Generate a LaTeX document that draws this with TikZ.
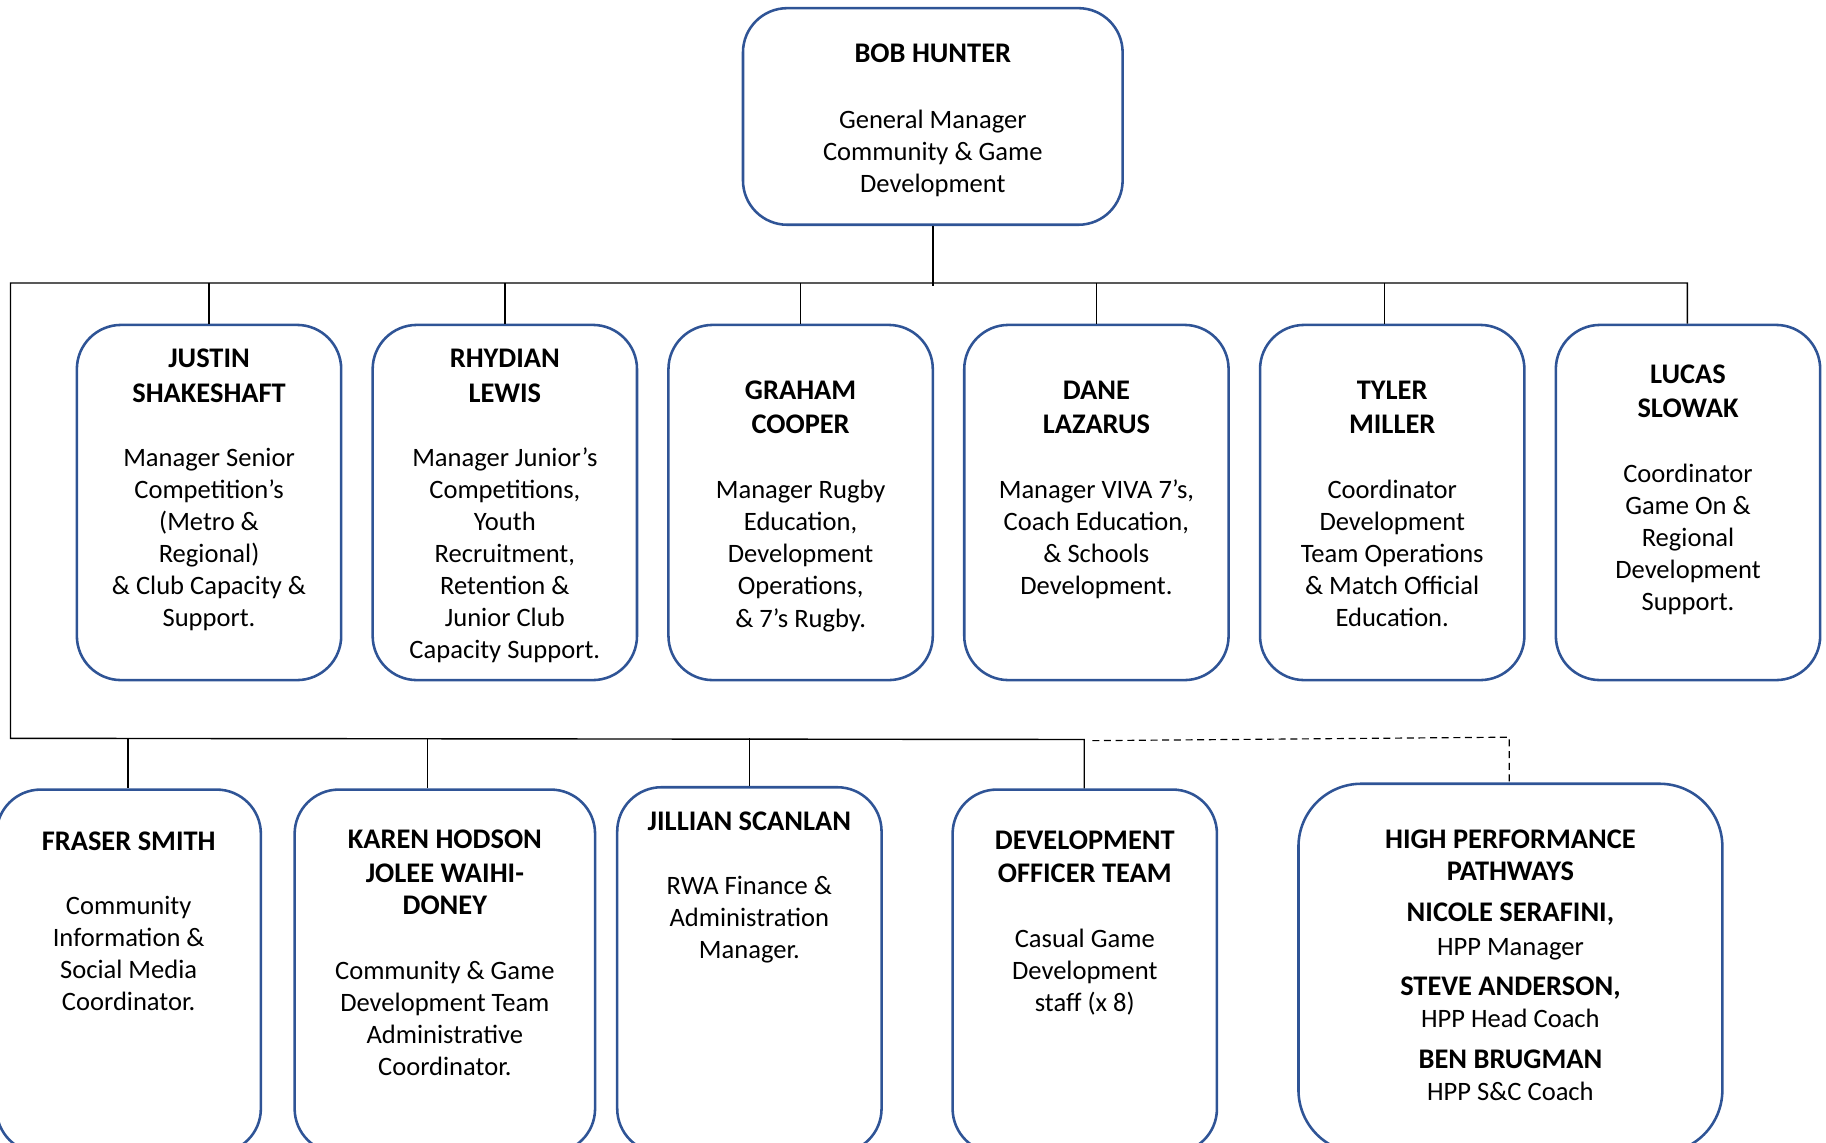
\documentclass[tikz,border=0pt]{standalone}
\usepackage{fontspec}
\setmainfont{Carlito}
\definecolor{boxblue}{RGB}{47,84,150}
\tikzset{
  orgbox/.style={draw=boxblue, line width=1.1pt, rounded corners=19pt, inner sep=0pt},
  orgtxt/.style={align=center, inner sep=0pt, anchor=north, font=\fontsize{11.4}{13.75}\selectfont},
  link/.style={draw=black, line width=0.6pt},
  dlink/.style={draw=black, line width=0.5pt, dash pattern=on 3pt off 2pt},
}
\newcommand\nm[1]{{\fontsize{12.2}{14.75}\selectfont\bfseries #1}}
\begin{document}
\begin{tikzpicture}[x=0.5pt,y=-0.5pt]
\useasboundingbox (0,0) rectangle (1568,980.7);
% ---- boxes
\node[orgbox, minimum width=163pt, minimum height=93pt] (bob) at (801,100) {};
\node[orgbox, minimum width=113.5pt, minimum height=152.5pt] (justin) at (179.5,431.5) {};
\node[orgbox, minimum width=113.5pt, minimum height=152.5pt] (rhydian) at (433.5,431.5) {};
\node[orgbox, minimum width=113.5pt, minimum height=152.5pt] (graham) at (687.5,431.5) {};
\node[orgbox, minimum width=113.5pt, minimum height=152.5pt] (dane) at (941.5,431.5) {};
\node[orgbox, minimum width=113.5pt, minimum height=152.5pt] (tyler) at (1195.5,431.5) {};
\node[orgbox, minimum width=113.5pt, minimum height=152.5pt] (lucas) at (1449.5,431.5) {};
\node[orgbox, minimum width=113.5pt, minimum height=156pt] (fraser) at (110.5,834) {};
\node[orgbox, minimum width=129pt, minimum height=156pt] (karen) at (382,834) {};
\node[orgbox, minimum width=113.5pt, minimum height=157pt] (jillian) at (643.5,833) {};
\node[orgbox, minimum width=113.5pt, minimum height=156pt] (devteam) at (931.5,834) {};
\node[orgbox, rounded corners=27pt, minimum width=182pt, minimum height=158.5pt] (hpp) at (1297,831.5) {};
% ---- texts
\node[orgtxt] (bobt) at (801,37) {\nm{BOB HUNTER}\\[14.75pt]General Manager\\Community \& Game\\Development};
\node[orgtxt] (justint) at (179.5,299) {\nm{JUSTIN}\\[1.25pt]\nm{SHAKESHAFT}\\[13.75pt]Manager Senior\\Competition’s\\(Metro \&\\Regional)\\\& Club Capacity \&\\Support.};
\node[orgtxt] (rhydiant) at (433.5,299) {\nm{RHYDIAN}\\[1.25pt]\nm{LEWIS}\\[13.75pt]Manager Junior’s\\Competitions,\\Youth\\Recruitment,\\Retention \&\\Junior Club\\Capacity Support.};
\node[orgtxt] (grahamt) at (687.5,327) {\nm{GRAHAM}\\[0.75pt]\nm{COOPER}\\[14.25pt]Manager Rugby\\Education,\\Development\\Operations,\\\& 7’s Rugby.};
\node[orgtxt] (danet) at (941.5,327) {\nm{DANE}\\[0.75pt]\nm{LAZARUS}\\[14.25pt]Manager VIVA 7’s,\\Coach Education,\\\& Schools\\Development.};
\node[orgtxt] (tylert) at (1195.5,327) {\nm{TYLER}\\[0.75pt]\nm{MILLER}\\[14.25pt]Coordinator\\Development\\Team Operations\\\& Match Official\\Education.};
\node[orgtxt] (lucast) at (1449.5,313) {\nm{LUCAS}\\[0.75pt]\nm{SLOWAK}\\[14.25pt]Coordinator\\Game On \&\\Regional\\Development\\Support.};
\node[orgtxt] (frasert) at (110.5,714) {\nm{FRASER SMITH}\\[13.75pt]Community\\Information \&\\Social Media\\Coordinator.};
\node[orgtxt] (karent) at (382,712) {\nm{KAREN HODSON}\\[0.75pt]\nm{JOLEE WAIHI-}\\[0.25pt]\nm{DONEY}\\[14.25pt]Community \& Game\\Development Team\\Administrative\\Coordinator.};
\node[orgtxt] (jilliant) at (643.5,697) {\nm{JILLIAN SCANLAN}\\[13.75pt]RWA Finance \&\\Administration\\Manager.};
\node[orgtxt] (devteamt) at (931.5,713) {\nm{DEVELOPMENT}\\[0.25pt]\nm{OFFICER TEAM}\\[14.25pt]Casual Game\\Development\\staff (x 8)};
\node[orgtxt] (hppt) at (1297,712) {\nm{HIGH PERFORMANCE}\\[0.25pt]\nm{PATHWAYS}\\[3.75pt]\nm{NICOLE SERAFINI,}\\[0.75pt]HPP Manager\\[3.25pt]\nm{STEVE ANDERSON,}\\[0.25pt]HPP Head Coach\\[3.75pt]\nm{BEN BRUGMAN}\\[0.25pt]HPP S\&C Coach};
% ---- connectors
\coordinate (tl) at (9,243);
\coordinate (tr) at (1449,243);
\coordinate (bl) at (9,634);
\coordinate (br) at (931,635);
\coordinate (ty) at (1189,243);
\coordinate (fr) at (110,635);
\coordinate (ka) at (367,635);
\coordinate (d1) at (938,636);
\coordinate (d2) at (1296,633);
\draw[link] (bob.south) -- ([yshift=-1.5pt]bob.south |- tl);
\draw[link] (lucas.north -| tr) -- (tr) -- (tl) -- (bl) -- (br) -- (br |- devteam.north);
\draw[link] (justin.north |- tl) -- (justin.north);
\draw[link] (rhydian.north |- tl) -- (rhydian.north);
\draw[link] (graham.north |- tl) -- (graham.north);
\draw[link] (dane.north |- tl) -- (dane.north);
\draw[link] (ty) -- (ty |- tyler.north);
\draw[link] (fr) -- (fr |- fraser.north);
\draw[link] (ka) -- (ka |- karen.north);
\draw[link] (jillian.north |- bl) -- (jillian.north);
\draw[dlink] (d1) -- (d2) -- (d2 |- hpp.north);
\end{tikzpicture}
\end{document}
